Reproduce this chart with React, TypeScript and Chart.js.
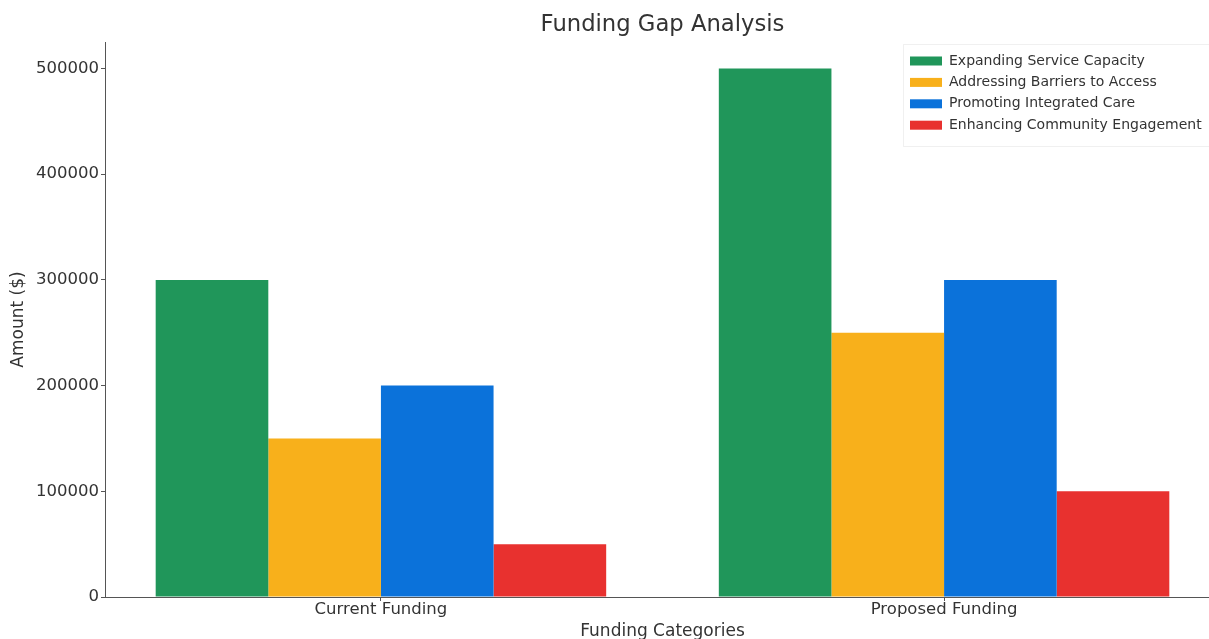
import React, { useEffect, useRef } from "react";
import { Chart, registerables } from "chart.js";

Chart.register(...registerables);

const categories = ["Current Funding", "Proposed Funding"];
const seriesNames = [
  "Expanding Service Capacity",
  "Addressing Barriers to Access",
  "Promoting Integrated Care",
  "Enhancing Community Engagement",
];
const expandingService = [300000, 500000];
const addressingBarriers = [150000, 250000];
const promotingCare = [200000, 300000];
const enhancingCommunity = [50000, 100000];
const seriesColors = ["#20965a", "#f8b01b", "#0b72da", "#e8312f"];
const yTicks = [0, 100000, 200000, 300000, 400000, 500000];
const chartTitle = "Funding Gap Analysis";

const FONT = "'DejaVu Sans', sans-serif";
const TEXT = "#333333";

const legendPlugin = {
  id: "insideLegend",
  afterDraw(chart: any) {
    const ctx = chart.ctx;
    const datasets = chart.data.datasets;
    const area = chart.chartArea;
    ctx.save();
    // title centred over the plot area
    ctx.font = `22.7px ${FONT}`;
    ctx.fillStyle = TEXT;
    ctx.textAlign = "center";
    ctx.textBaseline = "middle";
    ctx.fillText(chartTitle, (area.left + area.right) / 2, 25.5);

    const boxLeft = 910;
    const textLeft = 949;
    const firstRow = 61;
    const rowGap = 21.4;
    ctx.fillStyle = "rgba(255,255,255,0.8)";
    ctx.strokeStyle = "rgba(0,0,0,0.06)";
    ctx.lineWidth = 1;
    ctx.beginPath();
    ctx.rect(903.5, 44.5, 320, 102);
    ctx.fill();
    ctx.stroke();
    ctx.font = `14px ${FONT}`;
    ctx.textBaseline = "middle";
    ctx.textAlign = "left";
    datasets.forEach((ds: any, i: number) => {
      const y = firstRow + i * rowGap;
      ctx.fillStyle = ds.backgroundColor;
      ctx.fillRect(boxLeft, y - 4.5, 32, 9);
      ctx.fillStyle = TEXT;
      ctx.fillText(ds.label, textLeft, y);
    });
    ctx.restore();
  },
};

export default function App() {
  const canvasRef = useRef<HTMLCanvasElement | null>(null);

  useEffect(() => {
    const canvas = canvasRef.current;
    if (!canvas) return;
    const seriesValues = [expandingService, addressingBarriers, promotingCare, enhancingCommunity];
    const chart = new Chart(canvas, {
      type: "bar",
      data: {
        datasets: seriesNames.map((name, i) => ({
          label: name,
          data: seriesValues[i].map((v, j) => ({ x: j, y: v })),
          backgroundColor: seriesColors[i],
          borderWidth: 0,
          barPercentage: 1,
          categoryPercentage: 0.8,
        })),
      },
      plugins: [legendPlugin],
      options: {
        responsive: false,
        animation: false,
        layout: { padding: { left: 0, right: 20, top: 0, bottom: 0 } },
        plugins: {
          legend: { display: false },
          tooltip: { enabled: false },
          title: {
            display: true,
            text: chartTitle,
            color: "rgba(0,0,0,0)",
            font: { family: FONT, size: 22.7, weight: "normal" },
            padding: { top: 13, bottom: 1.8 },
          },
        },
        scales: {
          x: {
            type: "linear",
            min: -0.49,
            max: 1.49,
            offset: false,
            z: 1,
            afterFit: (s: any) => {
              s.height = 42;
            },
            afterBuildTicks: (s: any) => {
              s.ticks = categories.map((_, i) => ({ value: i }));
            },
            ticks: {
              callback: (v: any) => categories[Math.round(Number(v))] ?? "",
              color: TEXT,
              font: { family: FONT, size: 16.5 },
              padding: -1,
              maxRotation: 0,
              autoSkip: false,
            },
            grid: {
              offset: false,
              drawOnChartArea: false,
              drawTicks: true,
              tickLength: 4,
              tickColor: "#555555",
            },
            border: { display: true, color: "#555555", width: 1 },
            title: {
              display: true,
              text: "Funding Categories",
              color: TEXT,
              font: { family: FONT, size: 17 },
              padding: { top: 0, bottom: -3 },
            },
          },
          y: {
            type: "linear",
            min: 0,
            max: 525000,
            z: 1,
            afterFit: (s: any) => {
              s.width = 105;
            },
            afterBuildTicks: (s: any) => {
              s.ticks = yTicks.map((v) => ({ value: v }));
            },
            ticks: {
              color: TEXT,
              font: { family: FONT, size: 16.5 },
              padding: 2,
              callback: (v: any) => String(v),
            },
            grid: {
              color: "rgba(255,255,255,0.3)",
              drawTicks: true,
              tickLength: 4,
              tickColor: "#555555",
            },
            border: { display: true, color: "#555555", width: 1 },
            title: {
              display: true,
              text: "Amount ($)",
              color: TEXT,
              font: { family: FONT, size: 17 },
              padding: { top: 8, bottom: 0 },
            },
          },
        },
      },
    } as any);
    return () => chart.destroy();
  }, []);

  return (
    <div
      style={{
        position: "fixed",
        left: 0,
        top: 0,
        width: 1209,
        height: 639,
        overflow: "hidden",
        background: "#ffffff",
      }}
    >
      <canvas ref={canvasRef} width={1240} height={639} style={{ display: "block" }} />
    </div>
  );
}
